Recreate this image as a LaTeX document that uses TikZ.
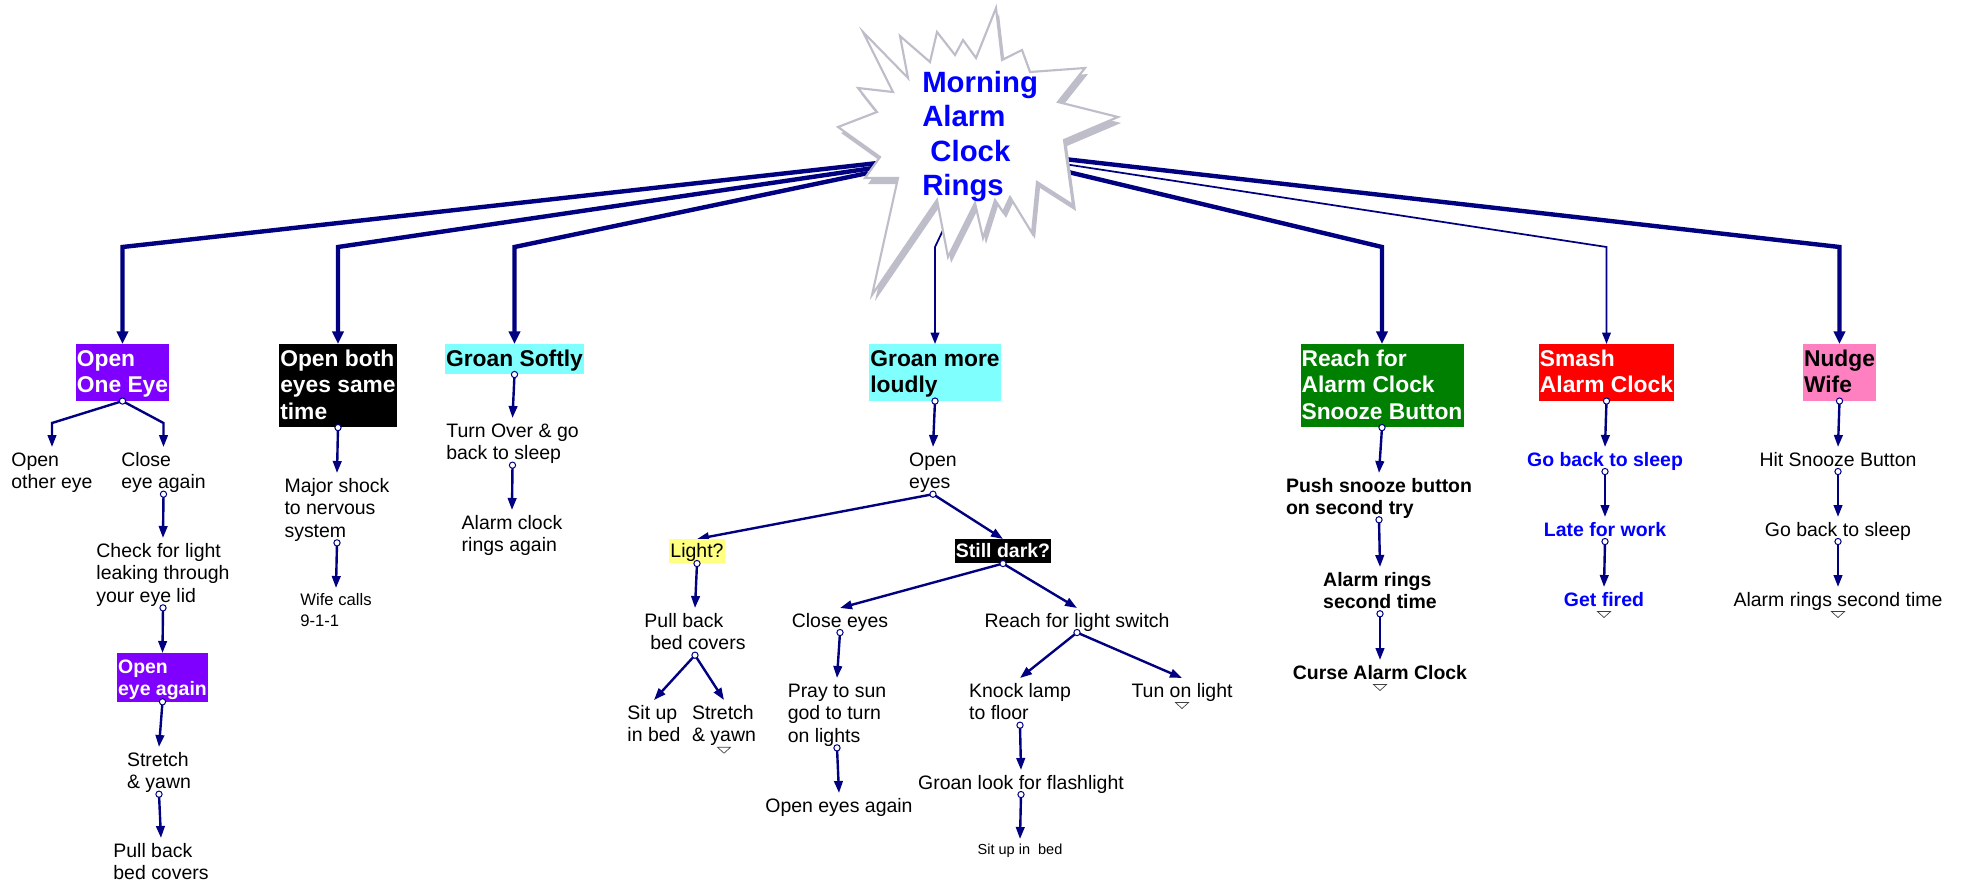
\documentclass[tikz,border=0pt]{standalone}
\usepackage{fontspec}
\setmainfont{Liberation Sans}
\usetikzlibrary{arrows.meta}
\pgfdeclarelayer{background}
\pgfsetlayers{background,main}
\definecolor{navy}{RGB}{0,0,128}
\definecolor{starg}{RGB}{190,190,202}
\definecolor{cpurple}{RGB}{128,0,255}
\definecolor{ccyan}{RGB}{128,255,255}
\definecolor{cgreen}{RGB}{0,128,0}
\definecolor{cred}{RGB}{255,0,0}
\definecolor{cpink}{RGB}{255,128,192}
\definecolor{cyellow}{RGB}{255,255,128}
\definecolor{cblue}{RGB}{0,0,255}
\newcommand\fnRoot{\fontsize{22pt}{25.7pt}\selectfont\bfseries}
\newcommand\fnHead{\fontsize{17.1pt}{19.9pt}\selectfont\bfseries}
\newcommand\fnNorm{\fontsize{14.6pt}{17pt}\selectfont}
\newcommand\fnBold{\fontsize{14.6pt}{16.7pt}\selectfont\bfseries}
\newcommand\fnSmall{\fontsize{12.5pt}{15.75pt}\selectfont}
\newcommand\fnTiny{\fontsize{10.9pt}{13pt}\selectfont}
% struts: top (height above first baseline) and bottom (depth below last baseline)
\newcommand\tN{\rule{0pt}{14.25pt}}
\newcommand\bN{\rule[-3.75pt]{0pt}{3.75pt}}
\newcommand\tH{\rule{0pt}{16.5pt}}
\newcommand\bH{\rule[-6pt]{0pt}{6pt}}
\newcommand\tS{\rule{0pt}{13.5pt}}
\newcommand\tE{\rule{0pt}{15pt}}
\newcommand\bS{\rule[-4.5pt]{0pt}{4.5pt}}
\newcommand\tSm{\rule{0pt}{12.75pt}}
\newcommand\tTi{\rule{0pt}{11.6pt}}
\tikzset{
  txt/.style={anchor=north, inner sep=0pt, align=left, font=\fnNorm},
  btxt/.style={txt, font=\fnBold},
  bluetxt/.style={btxt, text=cblue},
  smalltxt/.style={txt, font=\fnSmall},
  tinytxt/.style={txt, font=\fnTiny},
  head/.style={anchor=north, inner xsep=0.8pt, inner ysep=0pt, align=left, font=\fnHead},
  tag/.style={anchor=north, inner xsep=0.8pt, inner ysep=0pt, align=left, font=\fnNorm},
  etag/.style={tag, font=\fnBold},
  conn/.style={draw=navy, line width=1.8pt, -{Triangle[length=9pt,width=6.4pt]}},
  big/.style={draw=navy, line width=3.3pt, -{Triangle[length=9.5pt,width=8.5pt]}},
  thinc/.style={draw=navy, line width=1.3pt, -{Triangle[length=8.5pt,width=6.4pt]}},
  dot/.style={circle, draw=navy, fill=white, line width=0.75pt, inner sep=0pt, minimum size=4.7pt},
  coll/.style={draw=black!75, fill=white, line width=0.5pt},
}
\def\starpath{(863,32) -- (908,78) -- (900,36) -- (930,62) -- (937,32) -- (955,55) -- (963,40) -- (976,58) -- (996,8) -- (1002,60) -- (1022,50) -- (1030,72) -- (1085,68) -- (1058,102) -- (1118,117) -- (1064,140) -- (1073,205) -- (1037,182) -- (1032,233) -- (1010,197) -- (1003,212) -- (995,200) -- (983,238) -- (975,203) -- (948,257) -- (937,200) -- (872,295) -- (898,178) -- (865,178) -- (880,157) -- (838,127) -- (877,112) -- (858,88) -- (893,92) -- cycle}
\begin{document}
\begin{tikzpicture}[x=0.75pt, y=-0.75pt]
\useasboundingbox (0,0) rectangle (1967,885);
% star
\begin{scope}[shift={(3,6)}]
  \fill[starg] \starpath;
\end{scope}
\filldraw[fill=white, draw=starg, line width=1.6pt, line join=miter] \starpath;
\node[anchor=north west, inner sep=0pt, align=left, font=\fnRoot, text=cblue] (root) at (922,71)
  {Morning\\Alarm\\\hspace*{0.28em}Clock\\Rings};
\coordinate (rW1) at (878,163);
\coordinate (rW2) at (873,168);
\coordinate (rW3) at (868,173);
\coordinate (rS) at (944,228);
\coordinate (rE1) at (1064,159);
\coordinate (rE2) at (1064,164);
\coordinate (rE3) at (1064,171);
\coordinate (bend) at (0,247);
\coordinate (bendA) at (0,423);
% level 1
\node[head, fill=cpurple, text=white] (b1) at (122.5,344) {\tH Open\\One Eye\bH};
\node[head, fill=black, text=white] (b2) at (338,344) {\tH Open both\\eyes same\\time\bH};
\node[head, fill=ccyan] (b3) at (514.5,344) {\tH Groan Softly\bH};
\node[head, fill=ccyan] (b4) at (935,344) {\tH Groan more\\loudly\bH};
\node[head, fill=cgreen, text=white] (b5) at (1382,344) {\tH Reach for\\Alarm Clock\\Snooze Button\bH};
\node[head, fill=cred, text=white] (b6) at (1606.5,344) {\tH Smash\\Alarm Clock\bH};
\node[head, fill=cpink] (b7) at (1839.5,344) {\tH Nudge\\Wife\bH};
% branch 1
\node[txt] (c1) at (52,447) {\tN Open\\other eye\bN};
\node[txt] (c2) at (163.5,447) {\tN Close\\eye again\bN};
\node[txt] (c3) at (163,538) {\tN Check for light\\leaking through\\your eye lid\bN};
\node[etag, fill=cpurple, text=white] (c4) at (162.5,653) {\tE Open\\eye again\bS};
\node[txt] (c5) at (159,747) {\tN Stretch\\\& yawn\bN};
\node[txt] (c6) at (161,838) {\tN Pull back\\bed covers\bN};
% branch 2
\node[txt] (m1) at (337,473) {\tN Major shock\\to nervous\\system\bN};
\node[smalltxt] (m2) at (336,588) {\tSm Wife calls\\9-1-1};
% branch 3
\node[txt] (g1) at (512.5,418) {\tN Turn Over \& go\\back to sleep\bN};
\node[txt] (g2) at (512,510) {\tN Alarm clock\\rings again\bN};
% branch 4
\node[txt] (o1) at (933,447) {\tN Open\\eyes\bN};
\node[tag, fill=cyellow] (light) at (697,539) {\tS Light?\bS};
\node[etag, fill=black, text=white] (dark) at (1003,539) {\tS Still dark?\bS};
\node[txt] (pb) at (695,608) {\tN Pull back\\\hspace*{0.3em}bed covers\bN};
\node[txt] (su) at (654,700) {\tN Sit up\\in bed\bN};
\node[txt] (st) at (724,700) {\tN Stretch\\\& yawn\bN};
\node[txt] (ce) at (840,608) {\tN Close eyes\bN};
\node[txt] (pr) at (837,678) {\tN Pray to sun\\god to turn\\on lights\bN};
\node[txt] (oa) at (839,793) {\tN Open eyes again\bN};
\node[txt] (rs) at (1077,608) {\tN Reach for light switch\bN};
\node[txt] (kl) at (1020,678) {\tN Knock lamp\\to floor\bN};
\node[txt] (gl) at (1021,770) {\tN Groan look for flashlight\bN};
\node[tinytxt] (sb) at (1020,839) {\tTi Sit up in\ \ bed};
\node[txt] (tl) at (1182,678) {\tN Tun on light\bN};
% branch 5
\node[btxt] (p1) at (1379,473) {\tN Push snooze button\\on second try\bN};
\node[btxt] (p2) at (1380,567) {\tN Alarm rings\\second time\bN};
\node[btxt] (p3) at (1380,660) {\tN Curse Alarm Clock\bN};
% branch 6
\node[bluetxt] (s1) at (1605,447) {\tN Go back to sleep\bN};
\node[bluetxt] (s2) at (1605,517) {\tN Late for work\bN};
\node[bluetxt] (s3) at (1604,587) {\tN Get fired\bN};
% branch 7
\node[txt] (n1) at (1838,447) {\tN Hit Snooze Button\bN};
\node[txt] (n2) at (1838,517) {\tN Go back to sleep\bN};
\node[txt] (n3) at (1838,587) {\tN Alarm rings second time\bN};
% connectors
\begin{pgfonlayer}{background}
  \draw[big] (rW1) -- (b1.north |- bend) -- (b1.north);
  \draw[big] (rW2) -- (b2.north |- bend) -- (b2.north);
  \draw[big] (rW3) -- (b3.north |- bend) -- (b3.north);
  \draw[thinc] (rS) -- (b4.north |- bend) -- (b4.north);
  \draw[big] (rE3) -- (b5.north |- bend) -- (b5.north);
  \draw[thinc] (rE2) -- (b6.north |- bend) -- (b6.north);
  \draw[big] (rE1) -- (b7.north |- bend) -- (b7.north);
  \draw[conn] (b1.south) -- (c1.north |- bendA) -- (c1.north);
  \draw[conn] (b1.south) -- (c2.north |- bendA) -- (c2.north);
  \draw[conn] (c2.south) -- (c3.north);
  \draw[conn] (c3.south) -- (c4.north);
  \draw[conn] (c4.south) -- (c5.north);
  \draw[conn] (c5.south) -- (c6.north);
  \draw[conn] (b2.south) -- (m1.north);
  \draw[conn] (m1.south) -- (m2.north);
  \draw[conn] (b3.south) -- (g1.north);
  \draw[conn] (g1.south) -- (g2.north);
  \draw[conn] (b4.south) -- (o1.north);
  \draw[conn] (o1.south) -- (light.north);
  \draw[conn] (o1.south) -- (dark.north);
  \draw[conn] (light.south) -- (pb.north);
  \draw[conn] (pb.south) -- (su.north);
  \draw[conn] (pb.south) -- (st.north);
  \draw[conn] (dark.south) -- (ce.north);
  \draw[conn] (dark.south) -- (rs.north);
  \draw[conn] (ce.south) -- (pr.north);
  \draw[conn] (pr.south) -- (oa.north);
  \draw[conn] (rs.south) -- (kl.north);
  \draw[conn] (rs.south) -- (tl.north);
  \draw[conn] (kl.south) -- (gl.north);
  \draw[conn] (gl.south) -- (sb.north);
  \draw[conn] (b5.south) -- (p1.north);
  \draw[conn] (p1.south) -- (p2.north);
  \draw[conn] (p2.south) -- (p3.north);
  \draw[conn] (b6.south) -- (s1.north);
  \draw[conn] (s1.south) -- (s2.north);
  \draw[conn] (s2.south) -- (s3.north);
  \draw[conn] (b7.south) -- (n1.north);
  \draw[conn] (n1.south) -- (n2.north);
  \draw[conn] (n2.south) -- (n3.north);
\end{pgfonlayer}
\foreach \n in {b1,b2,b3,b4,b5,b6,b7,c2,c3,c4,c5,m1,g1,o1,light,dark,pb,ce,pr,rs,kl,gl,p1,p2,s1,s2,n1,n2}
  \node[dot] at (\n.south) {};
\foreach \n in {st,tl,p3,s3,n3}
  \draw[coll] ([xshift=-4.9pt]\n.south) -- ([xshift=4.9pt]\n.south) -- ([yshift=-4.5pt]\n.south) -- cycle;
\end{tikzpicture}
\end{document}
